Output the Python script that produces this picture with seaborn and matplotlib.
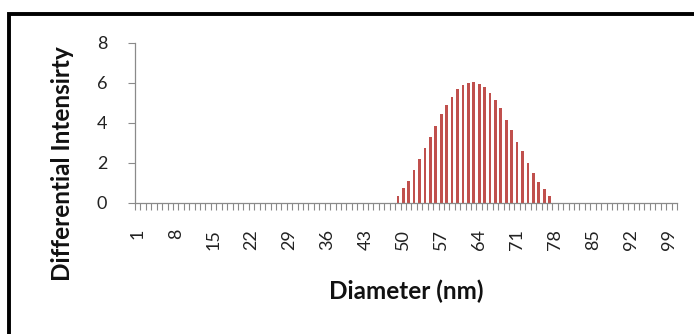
import matplotlib
matplotlib.use("Agg")
import matplotlib.pyplot as plt
import seaborn as sns
import pandas as pd
from matplotlib.patches import Rectangle

# ---- data ----
diameters = list(range(1, 101))
peak_start = 49
peak_values = [0.35, 0.73, 1.10, 1.64, 2.16, 2.75, 3.30, 3.85, 4.44, 4.90,
               5.28, 5.67, 5.87, 6.00, 6.05, 5.92, 5.79, 5.48, 5.11, 4.72,
               4.15, 3.63, 3.05, 2.58, 1.99, 1.48, 1.03, 0.67, 0.35]
intensity = [0.0] * (peak_start - 1) + peak_values + [0.0] * (100 - (peak_start - 1) - len(peak_values))
x_tick_labels = [str(d) for d in range(1, 101, 7)]
y_ticks = [0, 2, 4, 6, 8]

df = pd.DataFrame({"Diameter": diameters, "Intensity": intensity})

sns.set_theme(style="ticks")
plt.rcParams['font.family'] = ['Lato', 'DejaVu Sans']

W, H = 694, 334
fig = plt.figure(figsize=(W / 100, H / 100), dpi=100)
ax = fig.add_axes([135 / W, (H - 202.5) / H, (677 - 135) / W, 160 / H])

sns.barplot(data=df, x="Diameter", y="Intensity", order=diameters,
            color="#C0504D", saturation=1, width=0.5, linewidth=0, ax=ax)

ax.set_xlim(-0.5, 99.5)
ax.set_ylim(0, 8)
ax.set_yticks(y_ticks)
ax.set_yticklabels([str(v) for v in y_ticks], fontsize=13, color="#222222")

pos = [diameters.index(int(l)) for l in x_tick_labels]
ax.set_xticks(pos)
ax.set_xticklabels(x_tick_labels, rotation=90, fontsize=13, color="#222222")
ax.set_xticks([i - 0.5 for i in range(101)], minor=True)
ax.tick_params(axis="x", which="major", bottom=True, length=0, pad=19)
ax.tick_params(axis="x", which="minor", bottom=True, length=5, width=0.8,
               color="#8a8a8a", direction="out")
ax.tick_params(axis="y", which="major", left=True, length=5, width=0.8,
               color="#8a8a8a", direction="out", pad=15)

for s in ["top", "right"]:
    ax.spines[s].set_visible(False)
for s in ["left", "bottom"]:
    ax.spines[s].set_color("#8a8a8a")
    ax.spines[s].set_linewidth(0.9)

ax.set_xlabel("")
ax.set_ylabel("")
fig.text(406 / W, (H - 291) / H, "Diameter (nm)", ha="center", va="center",
         fontsize=17.5, fontweight="bold", color="#111111")
fig.text(62 / W, (H - 164) / H, "Differential Intensirty", ha="center", va="center",
         rotation=90, fontsize=17.5, fontweight="bold", color="#111111")

# outer black frame (cropped on right and bottom)
fig.patches.append(Rectangle((9 / W, -0.2), 1.5, (H - 14) / H + 0.2,
                             transform=fig.transFigure, fill=False,
                             edgecolor="black", linewidth=2.8, zorder=10))

fig.savefig("out.png", dpi=100, facecolor="white")
